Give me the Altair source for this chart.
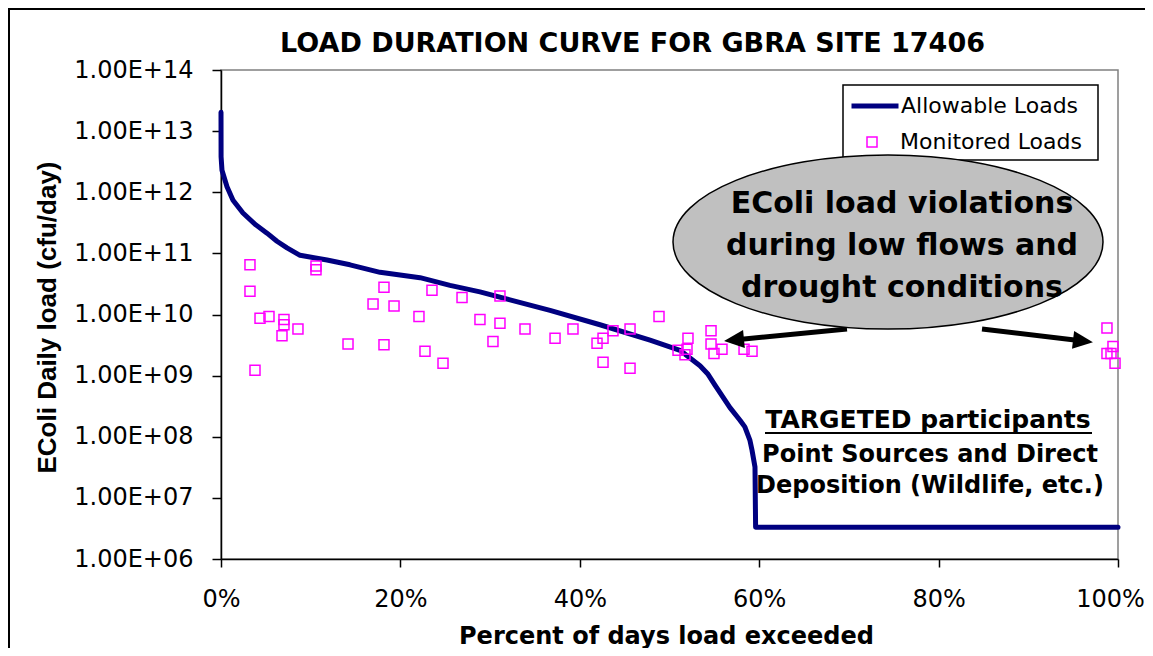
import altair as alt
import pandas as pd

FONT = "DejaVu Sans"
FONT_Y = "Liberation Sans"
W, H = 897, 489

# ---- data ----
curve_pct = [0, 0.01, 0.11, 0.67, 1.34, 2.45, 3.79, 5.13, 6.24, 7.36, 8.81, 11.82,
             14.38, 17.73, 22.19, 25.53, 28.87, 32.22, 36.68, 42.25, 47.83, 51.17,
             53.40, 54.30, 55.07, 56.74, 57.86, 58.40, 58.97, 59.20, 59.53, 59.6, 100]
curve_load = [2.04e13, 3.8e12, 2.29e12, 1.23e12, 7.4e11, 4.57e11, 3.0e11, 2.14e11,
              1.58e11, 1.23e11, 9.3e10, 7.8e10, 6.5e10, 4.9e10, 4.0e10, 3.0e10,
              2.34e10, 1.74e10, 1.17e10, 6.8e9, 3.8e9, 2.6e9, 1.45e9, 1.05e9, 7.0e8,
              3.0e8, 1.86e8, 1.45e8, 8.7e7, 6.0e7, 3.2e7, 3.3e6, 3.3e6]

mon_pct = [3.23, 3.23, 4.35, 5.35, 7.02, 7.02, 6.80, 8.58, 3.79, 10.59, 10.59,
           14.16, 16.95, 18.17, 19.29, 18.17, 22.07, 22.74, 23.52, 24.75, 26.87,
           28.87, 30.32, 31.10, 31.10, 33.89, 37.24, 39.24, 41.92, 42.59, 43.70,
           45.60, 42.59, 45.60, 48.83, 50.95, 51.95, 51.73, 52.06, 54.63, 54.63,
           54.96, 55.85, 58.31, 59.20, 98.77, 99.44, 98.77, 99.22, 99.67]
mon_load = [6.5e10, 2.4e10, 8.7e9, 9.3e9, 8.3e9, 6.8e9, 4.5e9, 5.8e9, 1.23e9, 6.2e10,
            5.4e10, 3.3e9, 1.48e10, 2.8e10, 1.38e10, 3.2e9, 9.3e9, 2.5e9, 2.5e10,
            1.6e9, 1.9e10, 8.3e9, 3.6e9, 2.0e10, 7.2e9, 5.8e9, 4.1e9, 5.8e9, 3.4e9,
            4.1e9, 5.4e9, 5.8e9, 1.66e9, 1.32e9, 9.3e9, 2.6e9, 2.7e9, 2.2e9, 4.1e9,
            5.4e9, 3.3e9, 2.3e9, 2.7e9, 2.7e9, 2.5e9, 6.0e9, 3.0e9, 2.3e9, 2.3e9,
            1.6e9]

x_ticks = [0, 20, 40, 60, 80, 100]
y_ticks = [1e6, 1e7, 1e8, 1e9, 1e10, 1e11, 1e12, 1e13, 1e14]

title_text = "LOAD DURATION CURVE FOR GBRA SITE 17406"
x_title = "Percent of days load exceeded"
y_title = "EColi Daily load (cfu/day)"
ellipse_lines = ["EColi load violations", "during low flows and", "drought conditions"]
target_head = "TARGETED participants"
target_lines = ["Point Sources and Direct", "Deposition (Wildlife, etc.)"]

curve_df = pd.DataFrame({"pct": curve_pct, "load": curve_load,
                         "s1": ["Allowable Loads"] * len(curve_pct)})
mon_df = pd.DataFrame({"pct": mon_pct, "load": mon_load,
                       "s2": ["Monitored Loads"] * len(mon_pct)})

x_axis = alt.Axis(values=x_ticks, labelExpr="datum.value + '%'", title=x_title,
                  labelFontSize=24, labelPadding=20, tickSize=8, labelFlush=False,
                  labelOffset={"condition": {"test": "datum.value === 100", "value": -8},
                               "value": 0},
                  titleFont=FONT, titleFontSize=24, titleFontWeight="bold",
                  titleX=445, titleY=84, titleBaseline="alphabetic", titleAlign="center")
y_axis = alt.Axis(values=y_ticks,
                  labelExpr="'1.00E+' + (round(log(datum.value)/LN10) < 10 ? '0' : '') + round(log(datum.value)/LN10)",
                  title=y_title, labelFontSize=24, labelPadding=19, tickSize=9,
                  titleFont=FONT_Y, titleFontSize=26, titleFontWeight="bold", titleAngle=270,
                  titleX=-166, titleY=247, titleBaseline="alphabetic", titleAlign="center")

x_enc = alt.X("pct:Q", scale=alt.Scale(domain=[0, 100], nice=False, zero=False), axis=x_axis)
y_enc = alt.Y("load:Q", scale=alt.Scale(type="log", domain=[1e6, 1e14], nice=False), axis=y_axis)

one = alt.InlineData(values=[{"k": 0}])

frame = alt.Chart(one).mark_rect(filled=False, stroke="black", strokeWidth=2).encode(
    x=alt.value(-212), x2=alt.value(1400), y=alt.value(-61), y2=alt.value(900))

legend_box = alt.Chart(one).mark_rect(fill="white", stroke="black", strokeWidth=1.5).encode(
    x=alt.value(622), x2=alt.value(877), y=alt.value(15), y2=alt.value(90))

line = alt.Chart(curve_df).mark_line(strokeWidth=5, strokeCap="round", strokeJoin="round").encode(
    x=x_enc, y=y_enc,
    stroke=alt.Stroke("s1:N", scale=alt.Scale(domain=["Allowable Loads"], range=["#000080"]),
                      legend=alt.Legend(title=None, orient="none", legendX=628, legendY=10,
                                        symbolType="stroke", symbolSize=2209,
                                        symbolStrokeWidth=5, labelFont=FONT,
                                        labelFontSize=22, labelColor="black",
                                        labelLimit=400, labelOffset=0, padding=0)))

points = alt.Chart(mon_df).mark_point(shape="square", size=100, filled=False,
                                      strokeWidth=1.5, opacity=1).encode(
    x=x_enc, y=y_enc,
    color=alt.Color("s2:N", scale=alt.Scale(domain=["Monitored Loads"], range=["#FF00FF"]),
                    legend=alt.Legend(title=None, orient="none", legendX=640, legendY=61,
                                      symbolType="square", symbolSize=100,
                                      symbolStrokeWidth=1.5, labelFont=FONT,
                                      labelFontSize=22, labelColor="black",
                                      labelLimit=400, labelOffset=17, padding=0)))

arrow_l = alt.Chart(one).mark_rule(color="black", strokeWidth=5).encode(
    x=alt.value(626), y=alt.value(259), x2=alt.value(513), y2=alt.value(270))
arrow_r = alt.Chart(one).mark_rule(color="black", strokeWidth=5).encode(
    x=alt.value(761), y=alt.value(259), x2=alt.value(862), y2=alt.value(271))
head = "M 0 -1 L 0.9 1 L -0.9 1 Z"
head_l = alt.Chart(one).mark_point(shape=head, size=400, angle=264.4, filled=True,
                                   color="black", opacity=1).encode(
    x=alt.value(513), y=alt.value(270))
head_r = alt.Chart(one).mark_point(shape=head, size=400, angle=96.7, filled=True,
                                   color="black", opacity=1).encode(
    x=alt.value(862), y=alt.value(271))

b = 0.405
k = 0.5523
ell_path = (f"M -1 0 C -1 {-k*b:.4f} {-k:.4f} {-b} 0 {-b} "
            f"C {k:.4f} {-b} 1 {-k*b:.4f} 1 0 "
            f"C 1 {k*b:.4f} {k:.4f} {b} 0 {b} "
            f"C {-k:.4f} {b} -1 {k*b:.4f} -1 0 Z")
ellipse = alt.Chart(one).mark_point(shape=ell_path, size=184900, filled=True,
                                    fill="#C0C0C0", stroke="black", strokeWidth=1.5,
                                    opacity=1).encode(
    x=alt.value(667), y=alt.value(172))

ell_text = alt.Chart(one).mark_text(text=ellipse_lines, font=FONT, fontSize=30,
                                    fontWeight="bold", align="center",
                                    baseline="alphabetic", lineHeight=42,
                                    color="black").encode(
    x=alt.value(681), y=alt.value(143))

t_head = alt.Chart(one).mark_text(text=target_head, font=FONT, fontSize=25,
                                  fontWeight="bold", align="center",
                                  baseline="alphabetic", color="black").encode(
    x=alt.value(707), y=alt.value(358))
t_under = alt.Chart(one).mark_rule(color="black", strokeWidth=2).encode(
    x=alt.value(544), x2=alt.value(871), y=alt.value(363), y2=alt.value(363))
t_body = alt.Chart(one).mark_text(text=target_lines, font=FONT, fontSize=24,
                                  fontWeight="bold", align="center",
                                  baseline="alphabetic", lineHeight=31,
                                  color="black").encode(
    x=alt.value(709), y=alt.value(392))

chart = alt.layer(
    frame, legend_box, line, points, arrow_l, arrow_r, head_l, head_r,
    ellipse, ell_text, t_head, t_under, t_body
).resolve_scale(stroke="independent", color="independent").properties(
    width=W, height=H,
    autosize=alt.AutoSizeParams(type="none"),
    padding={"left": 213, "top": 62, "right": 27, "bottom": 89},
    title=alt.TitleParams(text=title_text, font=FONT, fontSize=27, fontWeight="bold",
                          color="black", anchor="middle", frame="group", dx=-37,
                          offset=0, dy=71, baseline="alphabetic"),
).configure_view(
    stroke="#808080", strokeWidth=1.5
).configure_axis(
    labelFont=FONT, titleFont=FONT, labelColor="black", titleColor="black",
    domainColor="black", tickColor="black", grid=False, domainWidth=1.5, tickWidth=1.5
)

chart.save("out.html", embed_options={"renderer": "svg", "actions": False})
